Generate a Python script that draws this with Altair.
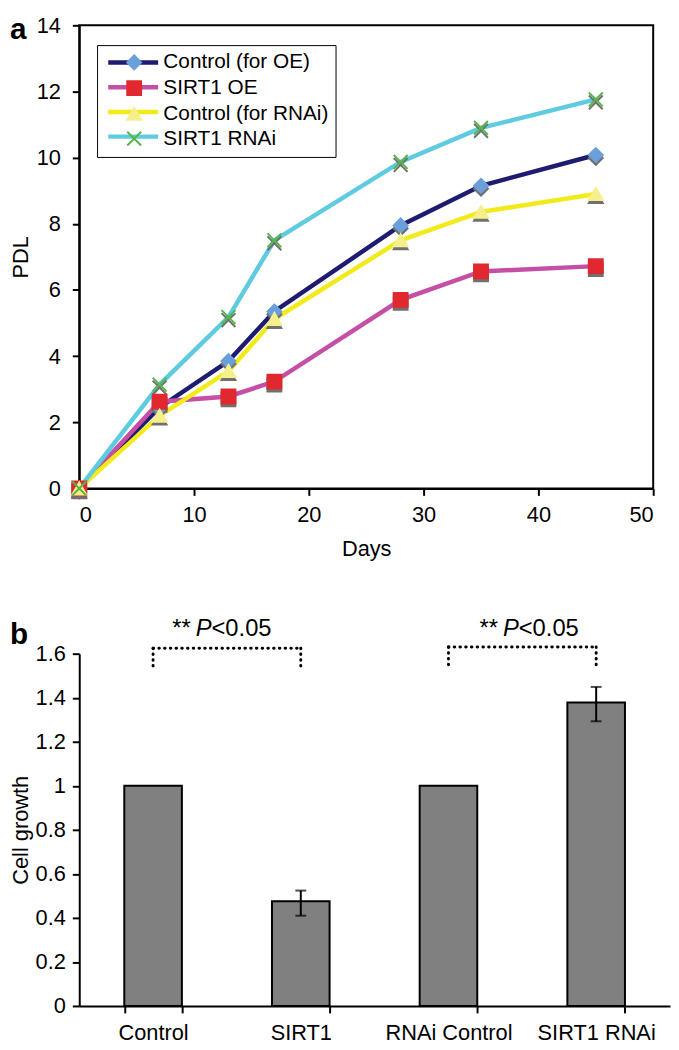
import altair as alt
import pandas as pd

FONT = "Liberation Sans, Arial, Helvetica, sans-serif"

# ---------------- Panel a data ----------------
days = [0, 7, 13, 17, 28, 35, 45]
series_names = ["Control (for OE)", "SIRT1 OE", "Control (for RNAi)", "SIRT1 RNAi"]
pdl_control_oe = [0, 2.45, 3.85, 5.35, 7.95, 9.15, 10.08]
pdl_sirt1_oe = [0, 2.62, 2.78, 3.23, 5.70, 6.56, 6.72]
pdl_control_rnai = [0, 2.20, 3.55, 5.12, 7.50, 8.36, 8.90]
pdl_sirt1_rnai = [0, 3.14, 5.18, 7.50, 9.87, 10.90, 11.76]

line_colors = ["#1e1c70", "#c54fa5", "#f3ea1a", "#5fcbe0"]
marker_colors = ["#6b9fda", "#e0282e", "#f6ef8c", "#56b64a"]
marker_shapes = ["diamond", "square", "triangle-up", "M-1,-1L1,1M-1,1L1,-1"]

# ---------------- Panel b data ----------------
groups = ["Control", "SIRT1", "RNAi Control", "SIRT1 RNAi"]
growth = [1.0, 0.476, 1.0, 1.378]
err_lo = [None, 0.410, None, 1.293]
err_hi = [None, 0.524, None, 1.449]

bracket_left = ["Control", "RNAi Control"]
bracket_right = ["SIRT1", "SIRT1 RNAi"]
bracket_top = [1.625, 1.63]
bracket_bottom = [1.535, 1.545]
annot_dx = [43, 55]

# ---------------- build tables ----------------
rows = []
for name, vals in zip(series_names, [pdl_control_oe, pdl_sirt1_oe, pdl_control_rnai, pdl_sirt1_rnai]):
    for d, v in zip(days, vals):
        rows.append({"series": name, "series_m": name, "day": d, "pdl": v})
df = pd.DataFrame(rows)

bar_df = pd.DataFrame({"group": groups, "growth": growth, "lo": err_lo, "hi": err_hi})
err_df = bar_df.dropna()
br_h = pd.DataFrame({"g1": bracket_left, "g2": bracket_right, "y": bracket_top})
br_v = pd.DataFrame({
    "g": bracket_left + bracket_right,
    "y": bracket_top + bracket_top,
    "y2": bracket_bottom + bracket_bottom,
})

# ---------------- Panel a ----------------
xa = alt.X("day:Q", scale=alt.Scale(domain=[0, 50], nice=False),
           axis=alt.Axis(values=[0, 10, 20, 30, 40, 50], title="Days",
                         labelPadding=9, titlePadding=14))
ya = alt.Y("pdl:Q", scale=alt.Scale(domain=[0, 14], nice=False),
           axis=alt.Axis(values=[0, 2, 4, 6, 8, 10, 12, 14], title="PDL",
                         labelPadding=12, titlePadding=4))

leg_common = dict(orient="none", legendX=18, legendY=20, direction="vertical", title=None,
                  labelFont=FONT, labelFontSize=21, rowPadding=3, padding=7,
                  symbolSize=196, labelLimit=400)

leg_line = alt.Legend(symbolType="M-3.6,0H3.6", symbolStrokeWidth=4.5, symbolOffset=19,
                      labelOffset=19, labelColor="transparent", **leg_common)
leg_mark = alt.Legend(symbolStrokeWidth=2, symbolOffset=20, labelOffset=19,
                      labelColor="black", strokeColor="black", **leg_common)

lines = alt.Chart().mark_line(strokeWidth=4.5).encode(
    x=xa, y=ya,
    color=alt.Color("series:N", sort=None,
                    scale=alt.Scale(domain=series_names, range=line_colors),
                    legend=leg_line),
)

shadows = []
for name, shp in zip(series_names, marker_shapes):
    shadows.append(
        alt.Chart().transform_filter(alt.datum.series_m == name).mark_point(
            filled=True, fill="#707070", stroke="#707070", strokeWidth=2,
            size=196, opacity=1, yOffset=3, shape=shp).encode(x=xa, y=ya)
    )

markers = alt.Chart().mark_point(filled=True, strokeWidth=2, size=196, opacity=1).encode(
    x=xa, y=ya,
    fill=alt.Fill("series_m:N", sort=None, scale=alt.Scale(range=marker_colors), legend=leg_mark),
    stroke=alt.Stroke("series_m:N", sort=None, scale=alt.Scale(range=marker_colors), legend=leg_mark),
    shape=alt.Shape("series_m:N", sort=None, scale=alt.Scale(range=marker_shapes), legend=leg_mark),
)

label_a = alt.Chart(pd.DataFrame({"t": ["a"]})).mark_text(
    font=FONT, fontSize=30, fontWeight="bold", align="left", baseline="alphabetic", color="black"
).encode(text="t:N", x=alt.value(-70), y=alt.value(14))

panel_a = alt.layer(lines, *shadows, markers, data=df) + label_a
panel_a = panel_a.properties(width=580, height=468,
                             view=alt.ViewBackground(stroke="black", strokeWidth=2))

# ---------------- Panel b ----------------
xscale_b = alt.Scale(domain=groups, paddingInner=0.61, paddingOuter=0.305)
xb = alt.X("group:N", title=None, scale=xscale_b,
           axis=alt.Axis(labelAngle=0, tickBand="extent", labelPadding=10))
yb_axis = alt.Axis(values=[0, 0.2, 0.4, 0.6, 0.8, 1.0, 1.2, 1.4, 1.6], format="~g",
                   labelPadding=7, titlePadding=3)
yb_scale = alt.Scale(domain=[0, 1.6], nice=False)


def xg(field):
    return alt.X(field, type="nominal", title=None, scale=xscale_b)


def yg(field):
    return alt.Y(field, type="quantitative", title="Cell growth", scale=yb_scale)


bars = alt.Chart(bar_df).mark_bar(color="#808080", stroke="black", strokeWidth=2).encode(
    x=xb, y=alt.Y("growth:Q", scale=yb_scale, axis=yb_axis, title="Cell growth"))

err_rule = alt.Chart(err_df).mark_rule(color="black", strokeWidth=2).encode(
    x=xg("group"), y=yg("lo"), y2="hi:Q")
cap_lo = alt.Chart(err_df).mark_tick(color="black", thickness=2, size=11).encode(
    x=xg("group"), y=yg("lo"))
cap_hi = alt.Chart(err_df).mark_tick(color="black", thickness=2, size=11).encode(
    x=xg("group"), y=yg("hi"))

dot_style = dict(color="black", strokeWidth=3, strokeDash=[0.5, 5.3], strokeCap="round")
br_horiz = alt.Chart(br_h).mark_rule(**dot_style).encode(
    x=xg("g1"), x2="g2:N", y=yg("y"))
br_vert = alt.Chart(br_v).mark_rule(**dot_style).encode(
    x=xg("g"), y=yg("y"), y2="y2:Q")

annot_layers = []
for g, dx in zip(bracket_left, annot_dx):
    adf = pd.DataFrame({"g": [g], "s1": ["**"], "s2": ["P"], "s3": ["<0.05"]})
    base = alt.Chart(adf)
    common = dict(font=FONT, fontSize=24, baseline="alphabetic", color="black")
    annot_layers.append(base.mark_text(align="right", dx=dx - 5, **common).encode(
        x=xg("g"), y=alt.value(-18), text="s1:N"))
    annot_layers.append(base.mark_text(align="left", dx=dx, fontStyle="italic", **common).encode(
        x=xg("g"), y=alt.value(-18), text="s2:N"))
    annot_layers.append(base.mark_text(align="left", dx=dx + 16, **common).encode(
        x=xg("g"), y=alt.value(-18), text="s3:N"))

label_b = alt.Chart(pd.DataFrame({"t": ["b"]})).mark_text(
    font=FONT, fontSize=30, fontWeight="bold", align="left", baseline="alphabetic", color="black"
).encode(text="t:N", x=alt.value(-70), y=alt.value(-10))

panel_b = alt.layer(bars, err_rule, cap_lo, cap_hi, br_horiz, br_vert, *annot_layers, label_b)
panel_b = panel_b.properties(width=597, height=356,
                             view=alt.ViewBackground(stroke="transparent"))

chart = alt.vconcat(panel_a, panel_b, spacing=56).properties(padding=0).configure_axis(
    domainColor="black", domainWidth=2, tickColor="black", tickWidth=2, tickSize=7,
    labelFont=FONT, labelFontSize=22, labelColor="black",
    titleFont=FONT, titleFontSize=22, titleFontWeight="normal", titleColor="black",
    grid=False,
)

chart.save("out.html", embed_options={"renderer": "svg", "actions": False})
